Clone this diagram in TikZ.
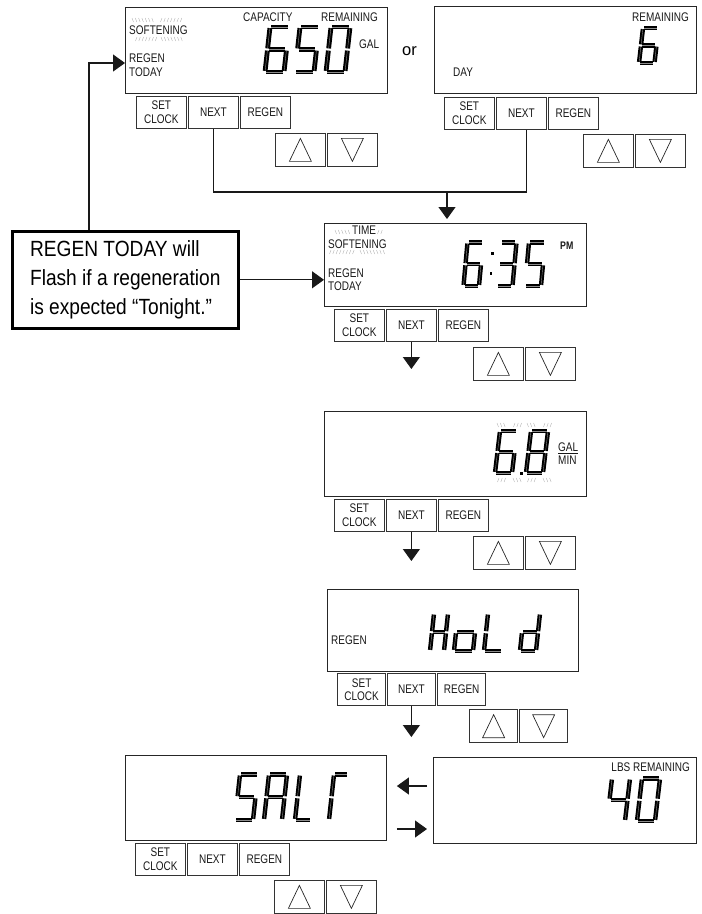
\documentclass[tikz,border=0pt]{standalone}
\usepackage{fontspec}
\setmainfont{Liberation Sans}
\newfontfamily\cnd[FakeStretch=0.8]{Liberation Sans}
\newfontfamily\callf[FakeStretch=0.87]{Liberation Sans}
\usetikzlibrary{arrows.meta,calc}
\def\segxa{(0,1)--(1,1)}
\def\segxb{(1,1)--(1,0.5)}
\def\segxc{(1,0.5)--(1,0)}
\def\segxd{(0,0)--(1,0)}
\def\segxe{(0,0.5)--(0,0)}
\def\segxf{(0,1)--(0,0.5)}
\def\segxg{(0,0.5)--(1,0.5)}
% [style] X Y W H S list
\newcommand{\sevseg}[7][]{\begin{scope}[cm={#4,0,-#6,-#5,(#2,#3)}]\foreach \s in {#7}{\expandafter\let\expandafter\segp\csname segx\s\endcsname\draw[segst,#1] \segp;}\end{scope}}
% flash marks: x y n dir
\newcommand{\fm}[4]{\foreach \i in {1,...,#3}{\draw[flashst] ({#1+(\i-1)*3.3},{#2-2}) -- ++({#4*1.5},4);}}
% buttons: prefix x0 y0 x1 y1 width extra
\newcommand{\btns}[7]{%
 \node[btn,minimum width=#6pt,#7] (#1sc) at (#2,#3) {SET\\CLOCK};
 \node[btn,minimum width=#6pt] (#1nx) at ({#2+#6+2},#3) {NEXT};
 \node[btn,minimum width=#6pt,#7] (#1rg) at ({#2+2*#6+4},#3) {REGEN};
 \node[abtn,minimum width=#6pt,#7] (#1up) at (#4,#5) {};
 \node[abtn,minimum width=#6pt,#7] (#1dn) at ({#4+#6+2},#5) {};
 \draw[tri] (#1up.center) ++(0,-11.5) -- ++(11,23) -- ++(-22,0) -- cycle;
 \draw[tri] (#1dn.center) ++(0,11.5) -- ++(11,-23) -- ++(-22,0) -- cycle;
}
\begin{document}
\begin{tikzpicture}[x=1pt,y=-1pt,
 disp/.style={draw=black!85, line width=0.9pt, rectangle, inner sep=0, anchor=north west},
 btn/.style={draw=black!80, line width=0.75pt, rectangle, minimum height=32pt, inner sep=0, anchor=north west, align=center, text=black!90, font=\cnd\fontsize{12.5}{13.5}\selectfont},
 abtn/.style={draw=black!80, line width=0.75pt, rectangle, minimum height=33pt, inner sep=0, anchor=north west},
 thick/.style={line width=1.3pt},
 tri/.style={draw=black!85, line width=0.7pt, line join=miter},
 lbl/.style={inner sep=0, anchor=base west, text=black!90, font=\cnd\fontsize{12.5}{13}\selectfont},
 segst/.style={draw=black, line width=2pt, double=black!45, double distance=0.4pt, shorten <=1.1pt, shorten >=1.1pt, line cap=butt},
 big/.style={line width=2.2pt},
 flashst/.style={draw=gray!60, line width=0.4pt},
 callout/.style={draw=black, line width=2.6pt, rectangle, anchor=north west, minimum width=226pt, minimum height=97pt, align=left, inner sep=0, font=\callf\fontsize{22}{29}\selectfont},
 arr/.style={draw=black!90, line width=1.1pt, -{Triangle[length=12pt,width=17pt]}},
 ln/.style={draw=black!90, line width=1.1pt}]
\useasboundingbox (0,0) rectangle (702,914);

% ---------- displays ----------
\node[disp, minimum width=262pt, minimum height=86pt] (d1) at (125,7) {};
\node[disp, minimum width=262pt, minimum height=87pt] (d2) at (434,6) {};
\node[disp, minimum width=262pt, minimum height=83pt] (d3) at (324,223) {};
\node[disp, minimum width=262pt, minimum height=85pt] (d4) at (324,411) {};
\node[disp, minimum width=251pt, minimum height=82pt] (d5) at (327,589) {};
\node[disp, minimum width=261pt, minimum height=85pt] (salt) at (125,755) {};
\node[disp, minimum width=263pt, minimum height=86pt] (lbs) at (433,757) {};

% ---------- buttons ----------
\btns{a}{136}{96}{275}{133}{50}{}
\btns{b}{444}{97}{583}{134}{50}{}
\btns{c}{334}{309}{473}{347}{50}{}
\btns{e}{334}{499}{473}{536}{50}{}
\btns{f}{337}{673}{469}{709}{48}{thick}
\btns{g}{135}{843}{274}{880}{50}{}

% ---------- display 1 ----------
\node[lbl] (l1a) at (129,34) {SOFTENING};
\node[lbl] (l1b) at (129,62) {REGEN};
\node[lbl] (l1c) at (129,76) {TODAY};
\node[lbl] (l1d) at (243,21) {CAPACITY};
\node[lbl] (l1e) at (321,21) {REMAINING};
\node[lbl] (l1f) at (359,48) {GAL};
\fm{132}{20}{7}{1}\fm{162}{20}{7}{-1}
\fm{137}{39}{7}{-1}\fm{161}{39}{7}{1}
\sevseg[big]{265}{72}{19}{45}{5}{a,c,d,e,f,g}
\sevseg[big]{295}{72}{19}{45}{5}{a,c,d,f,g}
\sevseg[big]{326}{72}{19}{45}{5}{a,b,c,d,e,f}
\node[inner sep=0, anchor=base west, font=\fontsize{16.5}{16}\selectfont] (or) at (402,55) {or};

% ---------- display 2 ----------
\node[lbl, anchor=base east] (l2a) at (689,21) {REMAINING};
\node[lbl] (l2b) at (453,76) {DAY};
\sevseg{639}{63}{15.5}{35}{4}{a,c,d,e,f,g}

% ---------- display 3 ----------
\node[lbl] (l3a) at (352,234) {TIME};
\node[lbl] (l3b) at (328,248) {SOFTENING};
\node[lbl] (l3c) at (328,277) {REGEN};
\node[lbl] (l3d) at (328,290) {TODAY};
\node[lbl, font=\cnd\bfseries\fontsize{11}{11}\selectfont] (l3e) at (560,249) {PM};
\fm{335}{232}{5}{1}\fm{379}{232}{2}{-1}
\fm{331}{252}{8}{-1}\fm{360}{252}{8}{1}
\sevseg{463.5}{286}{15.5}{43.5}{4}{a,c,d,e,f,g}
\sevseg{497}{286}{15.5}{43.5}{4}{a,b,c,d,g}
\sevseg{525}{286}{16}{43.5}{4}{a,c,d,f,g}
\fill[black] (491.3,251.7) rectangle ++(2.8,2.8);
\fill[black] (489.5,271.7) rectangle ++(2.8,2.8);

% ---------- display 4 ----------
\node[lbl] (l4a) at (558,451.5) {GAL};
\draw[draw=black!90, line width=0.6pt] (558,453.5) -- (578,453.5);
\node[lbl] (l4b) at (558,464.5) {MIN};
\fm{497}{425}{3}{1}\fm{515}{425}{3}{-1}\fm{527}{425}{3}{1}\fm{545}{425}{3}{-1}
\fm{499}{480}{3}{-1}\fm{513}{480}{3}{1}\fm{529}{480}{3}{-1}\fm{543}{480}{3}{1}
\sevseg{495}{473}{17}{42}{5}{a,c,d,e,f,g}
\sevseg{526}{473}{17}{42}{5}{a,b,c,d,e,f,g}
\fill[black] (519.5,471.5) rectangle ++(3,3);

% ---------- display 5 ----------
\node[lbl] (l5a) at (331,644) {REGEN};
\sevseg{430}{651}{14}{37.5}{4}{b,c,e,f,g}
\sevseg{454}{651}{19}{37.5}{4}{c,d,e,g}
\sevseg{484}{651}{18}{37.5}{4}{d,e,f}
\sevseg{520}{651}{16}{37.5}{4}{b,c,d,e,g}

% ---------- salt display ----------
\sevseg{235}{820}{18}{45.5}{5}{a,c,d,f,g}
\sevseg{264}{820}{18}{45.5}{5}{a,b,c,e,f,g}
\sevseg{295}{820}{16}{45.5}{5}{d,e,f}
\sevseg{329}{820}{14}{45.5}{5}{a,e,f}

% ---------- lbs display ----------
\node[lbl, anchor=base east] (l7a) at (690,771) {LBS REMAINING};
\sevseg{607}{821}{18}{42.5}{5}{b,c,f,g}
\sevseg{637}{821}{18}{42.5}{5}{a,b,c,d,e,f}

% ---------- callout ----------
\node[callout] (call) at (11,230) {REGEN TODAY will\\Flash if a regeneration\\is expected “Tonight.”};

% ---------- connectors ----------
\coordinate (ca) at (89,63);
\draw[arr] (ca |- call.north) |- (d1.west |- ca);
\draw[arr] (call.east) -- (call.east -| d3.west);
\coordinate (j) at (447,192);
\draw[ln] (anx.south) |- ($(bnx.south |- j)+(5,0)$) -- ($(bnx.south)+(5,0)$);
\draw[arr] (j) -- ($(j |- d3.north)+(0,-4)$);
\coordinate (t3) at (411,369);
\draw[arr] (cnx.south) -- (cnx.south |- t3);
\coordinate (t4) at (411,561);
\draw[arr] (enx.south) -- (enx.south |- t4);
\coordinate (t5) at (411,737);
\draw[arr] (fnx.south) -- (fnx.south |- t5);
\coordinate (la) at (0,786);
\coordinate (lb) at (0,829);
\draw[arr] ($(lbs.west |- la)+(-6,0)$) -- ($(salt.east |- la)+(10,0)$);
\draw[arr] ($(salt.east |- lb)+(10,0)$) -- ($(lbs.west |- lb)+(-6,0)$);
\end{tikzpicture}
\end{document}
